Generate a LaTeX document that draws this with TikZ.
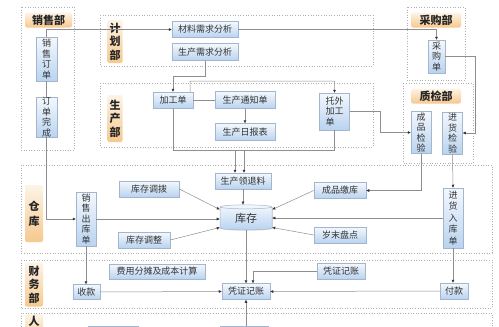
\documentclass[tikz,border=0pt]{standalone}
\usepackage{fontspec}
\newfontfamily\cjk{Noto Sans CJK SC}
\usetikzlibrary{arrows.meta,shapes.geometric,shadows}
\definecolor{boxline}{HTML}{A3B6CE}
\definecolor{boxtop}{HTML}{F4F8FD}
\definecolor{boxbot}{HTML}{B9D3F0}
\definecolor{labtop}{HTML}{FDF4E6}
\definecolor{labbot}{HTML}{F6C88E}
\definecolor{regline}{HTML}{B0B0B0}
\definecolor{linec}{HTML}{8E8E8E}
\definecolor{tipc}{HTML}{333333}
\definecolor{txt}{HTML}{333333}
\begin{document}
\begin{tikzpicture}[x=1pt,y=-1pt,
  sz/.style 2 args={minimum width=#1pt,minimum height=#2pt},
  box/.style={draw=boxline,line width=0.5pt,top color=boxtop,bottom color=boxbot,
    inner sep=0pt,text=txt,font=\cjk\fontsize{9}{10.5}\selectfont,
    drop shadow={shadow xshift=0.8pt,shadow yshift=-0.8pt,opacity=0.25}},
  vbox/.style={box,align=center},
  lab/.style={top color=labtop,bottom color=labbot,rounded corners=2pt,inner sep=0pt,
    text=black!85,font=\cjk\bfseries\fontsize{11}{13.5}\selectfont,align=center},
  region/.style={draw=regline,dotted,line width=0.6pt},
  conn/.style={draw=linec,line width=0.5pt},
  arr/.style={conn,-{Triangle[length=3pt,width=2.6pt,color=tipc]}}]
\useasboundingbox (0,0) rectangle (499,327);
\fill[white] (0,0) rectangle (499,327);
\clip (0,0) rectangle (499,327);

% regions
\draw[region] (21,7) rectangle (74,150);
\draw[region] (100,15) rectangle (373,66);
\draw[region] (100,83) rectangle (373,147);
\draw[region] (407,7) rectangle (465,80);
\draw[region] (403,83) rectangle (473,163);
\draw[region] (21,165) rectangle (492,253);
\draw[region] (21,260) rectangle (492,308);
\draw[region] (21,313) rectangle (492,340);

% labels
\node[lab,sz={47}{15}] (Lxs) at (48.5,20) {销售部};
\node[lab,sz={15}{43}] (Ljh) at (115,41.5) {计\\划\\部};
\node[lab,sz={50}{15}] (Lcg) at (436,20) {采购部};
\node[lab,sz={15}{47}] (Lsc) at (115,118.5) {生\\产\\部};
\node[lab,sz={50}{15}] (Lzj) at (436,96) {质检部};
\node[lab,sz={18}{57},font=\cjk\bfseries\fontsize{11}{15}\selectfont] (Lck) at (34,213.5) {仓\\库};
\node[lab,sz={18}{44}] (Lcw) at (34,284.5) {财\\务\\部};
\node[lab,sz={18}{30},anchor=north] (Lr) at (34,314) {};
\node[lab,top color=labtop,bottom color=labtop,fill opacity=0,text opacity=1] (Lrt) at (34,321) {人};

% nodes
\node[vbox,sz={21}{44}] (xsdd) at (46.5,59) {销\\售\\订\\单};
\node[vbox,sz={21}{40}] (ddwc) at (46.5,117) {订\\单\\完\\成};
\node[box,sz={66}{16}] (clxq) at (205,29.5) {材料需求分析};
\node[box,sz={66}{17}] (scxq) at (205,52) {生产需求分析};
\node[vbox,sz={17}{33}] (cgd) at (436.5,56.5) {采\\购\\单};
\node[box,sz={40}{16}] (jgd) at (173,100) {加工单};
\node[box,sz={60}{17}] (sctz) at (245,100) {生产通知单};
\node[box,sz={60}{17}] (scrb) at (245,132) {生产日报表};
\node[box,sz={30}{37},align=left] (twjg) at (334.5,111.5) {托外\\加工\\单};
\node[vbox,sz={20}{42}] (cpjy) at (421,132.5) {成\\品\\检\\验};
\node[vbox,sz={20}{42}] (jhjy) at (452.5,133) {进\\货\\检\\验};
\node[box,sz={56}{16}] (sclt) at (243,181) {生产领退料};
\node[box,cylinder,shape border rotate=90,aspect=0.18,sz={52}{25},
  font=\cjk\fontsize{11}{13}\selectfont] (kc) at (246,218.5) {库存};
\node[box,sz={60}{16}] (kcdb) at (149,189) {库存调拨};
\node[box,sz={52}{16}] (kctz) at (144,240) {库存调整};
\node[box,sz={52}{16}] (cpjk) at (340,190.5) {成品缴库};
\node[box,sz={52}{16}] (smpd) at (340,235) {岁末盘点};
\node[vbox,sz={20}{54}] (xsck) at (86,219) {销\\售\\出\\库\\单};
\node[vbox,sz={20}{60},font=\cjk\fontsize{9}{11.5}\selectfont] (jhrk) at (453,218) {进\\货\\入\\库\\单};
\node[box,sz={27}{15}] (sk) at (86.5,292) {收款};
\node[box,sz={96}{15}] (fyft) at (157,271.5) {费用分摊及成本计算};
\node[box,sz={48}{16}] (pzjz) at (246,291.5) {凭证记账};
\node[box,sz={48}{16}] (pzjz2) at (341,271) {凭证记账};
\node[box,sz={28}{16}] (fk) at (454,291) {付款};
\node[box,sz={50}{16},anchor=north] (r1) at (113,326) {};
\node[box,sz={48}{16},anchor=north] (r2) at (244,326) {};

% connectors
\draw[arr] (xsdd.north) |- (clxq.west);
\draw[conn] (xsdd.south) -- (ddwc.north);
\draw[arr] (ddwc.south) |- (xsck.west);
\draw[arr] (clxq.east) -| (cgd.north);
\coordinate (c1) at (475,56.5);
\draw[arr] (cgd.east) -- (c1) |- (jhjy.east);
\draw[arr] (jhjy.south) -- (jhrk.north);
\coordinate (c2) at (205,76);
\draw[arr] (scxq.south) -- (c2) -| (jgd.north);
\coordinate (c3) at (190,81);
\draw[arr] ([xshift=-3pt]jgd.north east) -- (c3) -| (twjg.north);
\draw[conn] (jgd.east) -- (sctz.west);
\draw[arr] (sctz.south) -- (scrb.north);
\coordinate (c4) at (173,150);
\coordinate (c5) at (334.5,150);
\draw[conn] (jgd.south) -- (c4) -- (c5) -- (twjg.south);
\coordinate (c6) at (235,150);
\coordinate (c7) at (244,150);
\draw[arr] (c6) -- (c6 |- sclt.north);
\draw[arr] (c7) -- (c7 |- sclt.north);
\coordinate (c8) at (380,111.5);
\draw[arr] (twjg.east) -- (c8) |- (cpjy.west);
\draw[arr] (cpjy.south) |- (cpjk.east);
\draw[arr] (sclt.south) -- (sclt.south |- kc.north);
\draw[arr] (kcdb.east) -- ([yshift=9pt]kc.west);
\draw[arr] (kctz.east) -- ([yshift=-9pt]kc.west);
\draw[arr] (cpjk.west) -- ([yshift=9pt]kc.east);
\draw[arr] (smpd.west) -- ([yshift=-9pt]kc.east);
\draw[arr] (xsck.east) -- (xsck.east -| kc.west);
\draw[arr] (jhrk.west) -- (jhrk.west -| kc.east);
\draw[arr] (xsck.south) -- (xsck.south |- sk.north);
\draw[arr] (sk.east) -- (pzjz.west);
\draw[arr] (kc.south) -- (pzjz.north);
\draw[arr] (pzjz2.west) -| ([xshift=7pt]pzjz.north);
\draw[arr] (fk.west) -- (pzjz.east);
\draw[arr] (jhrk.south) -- (jhrk.south |- fk.north);
\draw[arr] (pzjz.south |- r2.north) -- (pzjz.south);
\end{tikzpicture}
\end{document}
